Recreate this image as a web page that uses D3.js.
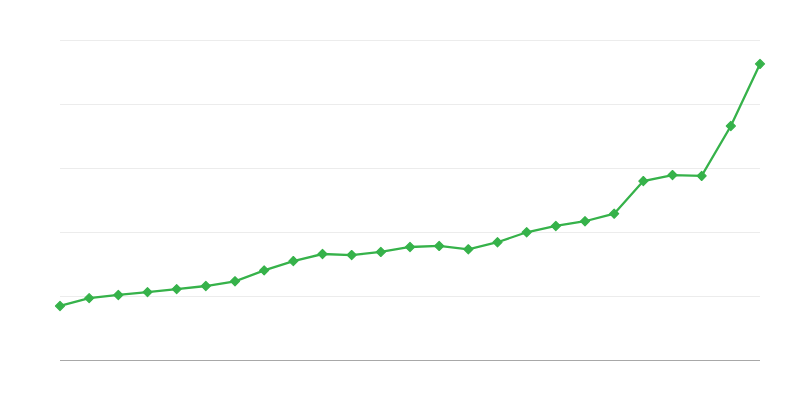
<!DOCTYPE html>
<html>
<head>
<meta charset="utf-8">
<script src="https://cdn.jsdelivr.net/npm/d3@7"></script>
<style>
  body { margin: 0; background: #fff; }
</style>
</head>
<body>
<div id="chart"></div>
<script>
// values (units arbitrary, gridline every 50)
let points = d3.range(1, 26);
let values = [42.2, 48.3, 50.8, 53.0, 55.4, 57.8, 61.5, 70.0, 77.3, 82.8,
              82.0, 84.4, 88.3, 89.1, 86.5, 92.0, 99.8, 104.7, 108.4, 114.3,
              139.8, 144.5, 143.8, 182.8, 231.3];
let yTicks = [0, 50, 100, 150, 200, 250];

let width = 800;
let height = 400;
let margin = { top: 40, right: 40, bottom: 40, left: 60 };

let svg = d3.select("#chart")
  .append("svg")
  .attr("width", width)
  .attr("height", height);

let x = d3.scaleLinear()
  .domain([1, 25])
  .range([margin.left, width - margin.right]);

let y = d3.scaleLinear()
  .domain([0, 250])
  .range([height - margin.bottom, margin.top]);

// gridlines
svg.append("g")
  .selectAll("line")
  .data(yTicks.slice(1))
  .enter()
  .append("line")
  .attr("x1", margin.left)
  .attr("x2", width - margin.right)
  .attr("y1", d => y(d) + 0.5)
  .attr("y2", d => y(d) + 0.5)
  .attr("stroke", "#ececec")
  .attr("stroke-width", 1);

// baseline
svg.append("line")
  .attr("x1", margin.left)
  .attr("x2", width - margin.right)
  .attr("y1", y(0) + 0.5)
  .attr("y2", y(0) + 0.5)
  .attr("stroke", "#a8a8a8")
  .attr("stroke-width", 1);

let line = d3.line()
  .x((d, i) => x(points[i]))
  .y(d => y(d));

svg.append("path")
  .datum(values)
  .attr("d", line)
  .attr("fill", "none")
  .attr("stroke", "#36b24a")
  .attr("stroke-width", 2.3);

svg.selectAll(".marker")
  .data(values)
  .enter()
  .append("path")
  .attr("class", "marker")
  .attr("d", d3.symbol().type(d3.symbolDiamond2).size(52))
  .attr("transform", (d, i) => "translate(" + x(points[i]) + "," + y(d) + ")")
  .attr("fill", "#36b24a")
  .attr("stroke", "#36b24a")
  .attr("stroke-width", 1.2)
  .attr("stroke-linejoin", "round");
</script>
</body>
</html>
